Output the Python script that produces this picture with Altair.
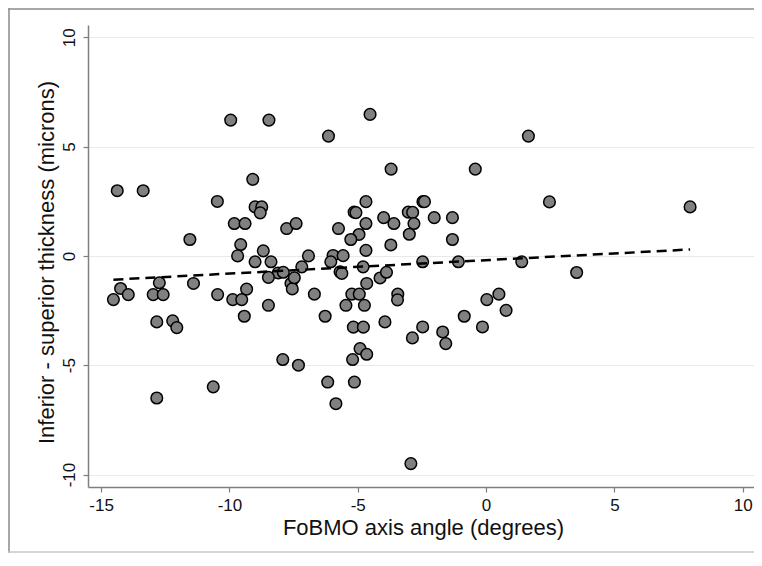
import altair as alt
import pandas as pd

# FoBMO axis angle (degrees)
angle = [
    -9.95, -8.46, -14.37, -13.36, -9.09, -10.47, -9.0, -8.74, -8.8, -9.81,
    -9.39, -7.77, -7.4, -11.54, -9.56, -9.68, -8.68, -9.0, -8.38, -8.1,
    -7.9, -7.6, -7.55, -7.47, -14.24, -14.52, -13.94, -12.73, -12.97, -12.58,
    -11.4, -10.46, -9.87, -9.52, -9.33, -9.42, -8.48, -8.48, -12.83, -12.21,
    -12.05, -7.92, -10.63, -12.83, -4.52, -6.14, -3.70, -0.42, -4.68, -5.14,
    -5.07, -4.68, -3.99, -3.59, -3.03, -2.86, -2.81, -2.46, -2.40, -2.02,
    -1.31, -1.31, -2.99, -3.71, -4.95, -5.27, -5.75, -4.68, -6.92, -7.18,
    -5.96, -5.57, -6.05, -5.69, -5.62, -4.79, -2.47, -1.08, -4.13, -3.88,
    -4.65, -6.69, -6.27, -5.23, -4.94, -5.46, -4.74, -5.17, -4.78, -3.94,
    -3.44, -3.45, -2.87, -2.47, -1.69, -1.57, -0.85, -0.14, 0.03, 0.50,
    0.78, -7.31, -6.17, -5.13, -5.85, -5.20, -4.91, -4.65, -2.93, 1.65,
    2.47, 7.95, 1.39, 3.53,
]
# Inferior - superior thickness (microns)
thickness = [
    6.21, 6.21, 2.98, 2.98, 3.50, 2.49, 2.24, 2.24, 1.97, 1.48,
    1.48, 1.25, 1.48, 0.75, 0.52, 0.00, 0.23, -0.27, -0.27, -0.78,
    -0.75, -1.26, -1.51, -1.00, -1.49, -2.00, -1.77, -1.23, -1.77, -1.77,
    -1.26, -1.77, -2.00, -2.00, -1.52, -2.76, -2.26, -0.98, -3.02, -2.97,
    -3.28, -4.74, -5.99, -6.50, 6.47, 5.48, 3.97, 3.97, 2.48, 2.00,
    1.98, 1.48, 1.75, 1.48, 2.00, 1.99, 1.48, 2.48, 2.48, 1.75,
    1.75, 0.75, 0.99, 0.50, 0.98, 0.75, 1.25, 0.25, 0.00, -0.50,
    0.02, 0.01, -0.27, -0.73, -0.80, -0.50, -0.27, -0.27, -1.01, -0.75,
    -1.26, -1.75, -2.76, -1.75, -1.75, -2.26, -2.26, -3.26, -3.26, -3.02,
    -1.75, -2.01, -3.75, -3.25, -3.48, -4.01, -2.76, -3.25, -2.00, -1.75,
    -2.49, -5.00, -5.77, -5.77, -6.76, -4.74, -4.24, -4.50, -9.50, 5.48,
    2.47, 2.24, -0.27, -0.76,
]

x_ticks = [-15, -10, -5, 0, 5, 10]
y_ticks = [-10, -5, 0, 5, 10]

df = pd.DataFrame({"angle": angle, "thickness": thickness})

FONT = "Liberation Sans"
AXIS_GREY = "#7f7f7f"

x_enc = alt.X(
    "angle:Q",
    scale=alt.Scale(domain=[-15.51, 10.44], nice=False, zero=False),
    axis=alt.Axis(
        values=x_ticks,
        grid=False,
        title="FoBMO axis angle (degrees)",
        labelExpr="datum.value + ''",
        labelFontSize=17,
        labelPadding=5,
        labelColor="#111111",
        labelFont=FONT,
        tickSize=5,
        tickColor=AXIS_GREY,
        tickWidth=1.2,
        domainColor=AXIS_GREY,
        domainWidth=1.5,
        titleFont=FONT,
        titleFontSize=22,
        titleFontWeight="normal",
        titleColor="#111111",
        titleX=335,
        titleY=40,
        titleBaseline="middle",
    ),
)
y_enc = alt.Y(
    "thickness:Q",
    scale=alt.Scale(domain=[-10.57, 10.56], nice=False, zero=False),
    axis=alt.Axis(
        values=y_ticks,
        grid=True,
        gridColor="#e9e9e9",
        gridWidth=1.2,
        title="Inferior - superior thickness (microns)",
        labelExpr="datum.value + ''",
        labelAngle=270,
        labelAlign="center",
        labelBaseline="middle",
        labelFontSize=17,
        labelPadding=14,
        labelColor="#111111",
        labelFont=FONT,
        tickSize=5,
        tickColor=AXIS_GREY,
        tickWidth=1.2,
        domainColor=AXIS_GREY,
        domainWidth=1.5,
        titleFont=FONT,
        titleFontSize=22,
        titleFontWeight="normal",
        titleColor="#111111",
        titleX=-42,
        titleY=237,
        titleAngle=270,
        titleAlign="center",
        titleBaseline="middle",
    ),
)

points = alt.Chart(df).mark_point(
    shape="circle", filled=True, fill="#808080", stroke="#000000",
    strokeWidth=1.5, size=135, opacity=1,
).encode(x=x_enc, y=y_enc)

fit = alt.Chart(df).transform_regression(
    "angle", "thickness"
).mark_line(color="#000000", strokeWidth=2.5, strokeDash=[10, 6]).encode(
    x="angle:Q", y="thickness:Q"
)

# outer picture frame (decoration): thin filled bars for left, top, bottom edges
frame_df = pd.DataFrame({"k": [0]})
frame_left = alt.Chart(frame_df).mark_rect(fill="#8a8a8a", strokeWidth=0).encode(
    x=alt.value(-79.75), x2=alt.value(-78.25), y=alt.value(-16.75), y2=alt.value(527.75)
)
frame_top = alt.Chart(frame_df).mark_rect(fill="#8a8a8a", strokeWidth=0).encode(
    x=alt.value(-79.75), x2=alt.value(666), y=alt.value(-16.75), y2=alt.value(-15.25)
)
frame_bottom = alt.Chart(frame_df).mark_rect(fill="#c8c8c8", strokeWidth=0).encode(
    x=alt.value(-79.75), x2=alt.value(666), y=alt.value(526.25), y2=alt.value(527.75)
)

chart = alt.layer(frame_left, frame_top, frame_bottom, points, fit).properties(
    width=666,
    height=462,
    autosize=alt.AutoSizeParams(type="none"),
    padding={"left": 80, "top": 17, "right": 0, "bottom": 66},
    background="white",
).configure_view(strokeWidth=0, stroke="transparent")

chart.save("out.html", embed_options={"renderer": "svg", "actions": False})
